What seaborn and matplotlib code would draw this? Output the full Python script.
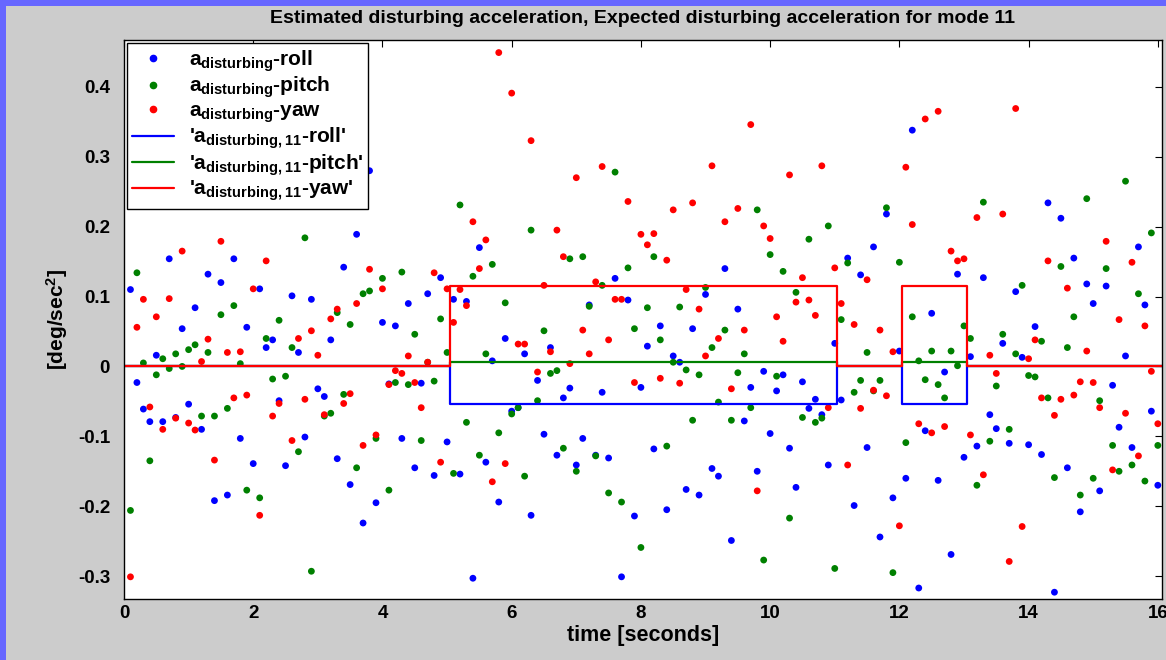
import numpy as np
import pandas as pd
import matplotlib
matplotlib.use("Agg")
import matplotlib.pyplot as plt
from matplotlib.lines import Line2D
from matplotlib.patches import Rectangle
import seaborn as sns

# samples every 0.1 s
time = np.round(np.arange(1, 161) * 0.1, 2)

roll = [0.110, -0.023, -0.061, -0.079, 0.016, -0.079, 0.154, -0.073, 0.054, -0.054,
        0.084, -0.090, 0.132, -0.192, 0.120, -0.184, 0.154, -0.103, 0.056, -0.139,
        0.111, 0.027, 0.038, -0.049, -0.142, 0.101, 0.020, -0.101, 0.096, -0.032,
        -0.043, 0.038, -0.132, 0.142, -0.169, 0.189, -0.224, 0.280, -0.195, 0.063,
        -0.025, 0.058, -0.103, 0.090, -0.145, -0.024, 0.104, -0.156, 0.127, -0.108,
        0.096, -0.154, 0.093, -0.303, 0.170, -0.137, 0.008, -0.194, 0.040, -0.064,
        -0.059, 0.018, -0.213, -0.020, -0.097, 0.027, -0.127, -0.045, -0.031, -0.141,
        -0.103, 0.088, -0.127, -0.037, -0.131, 0.126, -0.301, 0.095, -0.214, -0.030,
        0.029, -0.118, 0.058, -0.205, 0.015, 0.006, -0.176, 0.054, -0.184, 0.103,
        -0.146, -0.157, 0.140, -0.249, 0.082, -0.078, -0.030, -0.150, -0.007, -0.096,
        -0.035, -0.012, -0.117, -0.173, -0.022, -0.060, -0.047, -0.069, -0.141, 0.033,
        -0.048, 0.155, -0.199, 0.131, -0.116, 0.171, -0.244, 0.218, -0.188, 0.022,
        -0.160, 0.338, -0.317, -0.092, 0.076, -0.163, -0.008, -0.269, 0.132, -0.130,
        0.014, -0.114, 0.127, -0.069, -0.089, 0.033, -0.110, 0.107, 0.013, -0.112,
        0.057, -0.126, 0.234, -0.323, 0.212, -0.145, 0.155, -0.208, 0.118, 0.090,
        -0.178, 0.115, -0.027, -0.087, 0.015, -0.116, 0.171, 0.088, -0.064, -0.170]

pitch = [-0.206, 0.134, 0.005, -0.135, -0.012, 0.011, -0.003, 0.018, 0.000, 0.024,
         0.031, -0.071, 0.020, -0.071, 0.074, -0.060, 0.087, 0.004, -0.177, 0.300,
         -0.188, 0.040, -0.018, 0.066, -0.014, 0.027, -0.122, 0.184, -0.293, 0.250,
         -0.071, -0.067, 0.077, -0.040, 0.060, -0.145, 0.104, 0.108, -0.103, 0.126,
         -0.177, -0.023, 0.135, -0.026, 0.046, -0.106, 0.006, -0.021, 0.068, 0.020,
         -0.153, 0.231, -0.080, 0.129, -0.127, 0.018, 0.146, -0.095, 0.091, -0.068,
         -0.059, -0.157, 0.195, -0.049, 0.051, -0.010, -0.006, -0.117, 0.154, -0.150,
         0.157, 0.086, -0.128, 0.116, -0.181, 0.278, -0.194, 0.141, 0.054, -0.259,
         0.084, 0.157, 0.038, -0.114, 0.006, 0.085, -0.005, -0.077, -0.012, 0.113,
         0.027, -0.051, 0.052, -0.077, -0.009, 0.018, -0.059, 0.224, -0.277, 0.160,
         -0.014, 0.136, -0.217, 0.106, -0.073, 0.182, -0.080, -0.074, 0.201, -0.289,
         0.067, 0.148, -0.037, -0.020, 0.020, -0.035, -0.020, 0.227, -0.295, 0.149,
         -0.109, 0.071, 0.008, -0.019, 0.022, -0.026, -0.045, 0.022, 0.001, 0.058,
         0.040, -0.170, 0.235, -0.107, -0.028, 0.046, -0.090, 0.018, 0.116, -0.013,
         -0.015, 0.036, -0.045, -0.159, 0.143, 0.027, 0.071, -0.184, 0.240, -0.160,
         -0.049, 0.140, -0.113, -0.150, 0.265, -0.141, 0.104, -0.164, 0.191, -0.113]

yaw = [-0.301, 0.056, 0.096, -0.058, 0.071, -0.090, 0.097, -0.074, 0.165, -0.081,
       -0.091, 0.007, 0.039, -0.134, 0.179, 0.020, -0.045, 0.021, -0.041, 0.111,
       -0.213, 0.151, -0.071, -0.053, 0.260, -0.106, 0.040, -0.047, 0.051, 0.016,
       -0.069, 0.068, 0.082, -0.053, -0.039, 0.090, -0.113, 0.139, -0.098, 0.111,
       -0.026, -0.006, -0.010, 0.015, -0.023, -0.059, 0.006, 0.134, -0.137, 0.111,
       0.063, 0.110, 0.087, 0.207, 0.140, 0.181, -0.165, 0.449, -0.139, 0.391,
       0.032, 0.032, 0.323, -0.008, 0.116, 0.021, 0.195, 0.157, 0.004, 0.270,
       0.052, 0.018, 0.121, 0.286, 0.038, 0.096, 0.096, 0.236, -0.023, 0.189,
       0.174, 0.190, -0.017, 0.152, 0.224, -0.024, 0.110, 0.234, 0.082, 0.015,
       0.287, 0.040, 0.207, -0.032, 0.226, 0.052, 0.346, -0.178, 0.201, 0.183,
       0.071, 0.036, 0.274, 0.092, 0.127, 0.095, 0.073, 0.287, -0.059, 0.141,
       0.090, -0.141, 0.060, -0.060, 0.124, -0.034, 0.052, -0.042, 0.021, -0.228,
       0.285, 0.203, -0.082, 0.354, -0.095, 0.365, -0.086, 0.165, 0.151, 0.154,
       -0.098, 0.213, -0.155, 0.016, -0.010, 0.218, -0.279, 0.369, -0.229, 0.011,
       0.038, -0.045, 0.151, -0.070, -0.047, 0.112, -0.041, -0.022, 0.022, -0.023,
       -0.059, 0.179, -0.148, 0.067, -0.067, 0.149, -0.128, 0.058, -0.007, -0.082]

# expected disturbing acceleration while mode 11 is active
mode_on = [(5.04, 11.04), (12.04, 13.04)]
t_end = 16.06
expected = {"roll": -0.054, "pitch": 0.006, "yaw": 0.115}

colors = {"roll": "#0000ff", "pitch": "#008000", "yaw": "#ff0000"}

df = pd.DataFrame({
    "time": np.concatenate([time, time, time]),
    "value": np.concatenate([roll, pitch, yaw]),
    "axis": ["roll"] * 160 + ["pitch"] * 160 + ["yaw"] * 160,
})

sns.set_style("white")
plt.rcParams["font.family"] = ["Liberation Sans", "DejaVu Sans"]
plt.rcParams["font.weight"] = "bold"
plt.rcParams["text.color"] = "black"
plt.rcParams["axes.labelcolor"] = "black"
plt.rcParams["xtick.color"] = "black"
plt.rcParams["ytick.color"] = "black"
plt.rcParams["mathtext.fontset"] = "custom"
plt.rcParams["mathtext.bf"] = "Liberation Sans:bold"
plt.rcParams["mathtext.rm"] = "Liberation Sans:bold"
plt.rcParams["mathtext.default"] = "bf"

fig = plt.figure(figsize=(11.66, 6.60), dpi=100)
fig.patch.set_facecolor("#cccccc")
fig.patches.append(Rectangle((0, 654 / 660), 1, 6 / 660, transform=fig.transFigure,
                             facecolor="#6666ff", edgecolor="none", zorder=0))
fig.patches.append(Rectangle((0, 0), 6 / 1166, 1, transform=fig.transFigure,
                             facecolor="#6666ff", edgecolor="none", zorder=0))

ax = fig.add_axes([124 / 1166, 61.5 / 660, 1037.7 / 1166, 558.5 / 660])
ax.set_facecolor("white")

sns.scatterplot(data=df, x="time", y="value", hue="axis", palette=colors,
                s=24, edgecolor="none", linewidth=0, legend=False, ax=ax)

# step lines
edges = [0.0]
for a, b in mode_on:
    edges += [a, b]
edges.append(t_end)
for name in ["roll", "pitch", "yaw"]:
    lvl = expected[name]
    vals = [0.0]
    for _ in mode_on:
        vals += [lvl, 0.0]
    vals.append(0.0)
    ax.plot(edges, vals, drawstyle="steps-post", color=colors[name], lw=1.6)

ax.set_xlim(0, t_end)
ax.set_ylim(-0.332, 0.467)
ax.set_xticks(np.arange(0, 17, 2))
ax.set_yticks(np.round(np.arange(-0.3, 0.41, 0.1), 1))
ax.set_yticklabels(["-0.3", "-0.2", "-0.1", "0", "0.1", "0.2", "0.3", "0.4"])
ax.tick_params(direction="in", top=True, right=True, length=5, width=0.8,
               labelsize=13.5)
ax.tick_params(axis="y", pad=10)
ax.tick_params(axis="x", pad=5)
for lab in ax.get_xticklabels() + ax.get_yticklabels():
    lab.set_fontweight("bold")
for sp in ax.spines.values():
    sp.set_linewidth(1.0)
    sp.set_color("black")

ax.set_xlabel("time [seconds]", fontsize=15.5, fontweight="bold", labelpad=2)
ax.set_ylabel("[deg/sec$^2$]", fontsize=15, fontweight="bold", labelpad=6)
ax.set_title("Estimated disturbing acceleration, Expected disturbing acceleration for mode 11",
             fontsize=14, fontweight="bold", pad=12)

handles = []
labels = []
for name in ["roll", "pitch", "yaw"]:
    handles.append(Line2D([], [], marker="o", ls="", color=colors[name], markersize=4.5))
    labels.append(r"$a_{disturbing}$-" + name)
for name in ["roll", "pitch", "yaw"]:
    handles.append(Line2D([], [], color=colors[name], lw=1.6))
    labels.append(r"'$a_{disturbing,11}$-" + name + "'")
leg = ax.legend(handles, labels, loc="upper left", fontsize=15, frameon=True,
                fancybox=False, framealpha=1, edgecolor="black", borderaxespad=0.15,
                handlelength=2.0, labelspacing=0.05, borderpad=0.25, handletextpad=0.7)
leg.get_frame().set_linewidth(1.0)

fig.savefig("out.png", dpi=100, facecolor=fig.get_facecolor())
